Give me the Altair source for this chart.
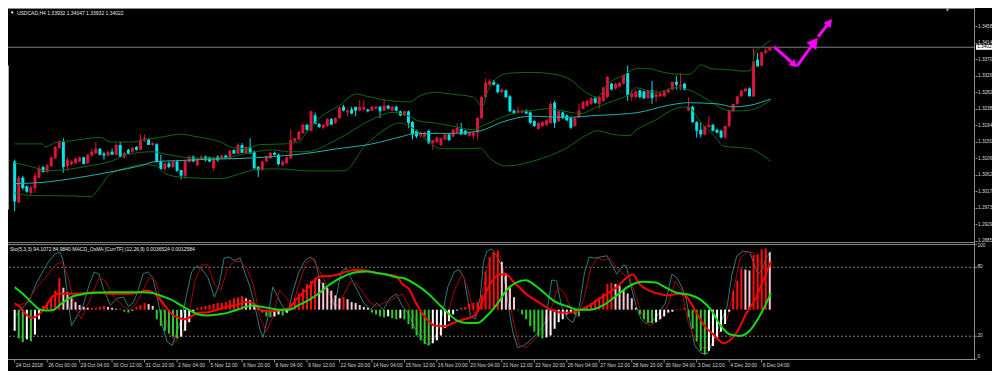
import altair as alt
import pandas as pd
import numpy as np

# ---------------- data ----------------
TITLE_MAIN = "USDCAD,H4  1.33932 1.34047 1.33932 1.34022"
TITLE_SUB = "Sto(5,3,3) 94.1072 84.9840   MACD_OsMA [CurrTF] (12,26,9) 0.0036524 0.0012584"
CURRENT_CLOSE = 1.34022

TIME_LABELS = ["24 Oct 2018", "26 Oct 00:00", "29 Oct 04:00", "30 Oct 12:00", "31 Oct 20:00",
               "2 Nov 04:00", "5 Nov 12:00", "6 Nov 20:00", "8 Nov 04:00", "9 Nov 12:00",
               "12 Nov 20:00", "14 Nov 04:00", "15 Nov 12:00", "16 Nov 20:00", "20 Nov 04:00",
               "21 Nov 12:00", "22 Nov 20:00", "26 Nov 04:00", "27 Nov 12:00", "28 Nov 20:00",
               "30 Nov 04:00", "3 Dec 12:00", "4 Dec 20:00", "6 Dec 04:00"]
TIME_LABEL_BARS = [8 * k for k in range(len(TIME_LABELS))]
PRICE_TICKS = [1.3458, 1.3414, 1.3370, 1.3326, 1.3282, 1.3238, 1.3194, 1.3150,
               1.3106, 1.3062, 1.3017, 1.2973, 1.2929, 1.2885]
STO_TICKS_TOP = [100]
STO_TICKS_MID = [80, 20]
STO_TICKS_BOTTOM = [0]
STO_LEVELS = [80, 20]

opens = [1.3097, 1.2987, 1.3054, 1.3031, 1.3013, 1.3026, 1.3054, 1.3082, 1.3069, 1.3085,
         1.3105, 1.3133, 1.3149, 1.3085, 1.3090, 1.3092, 1.3097, 1.3108, 1.3092, 1.3113,
         1.3118, 1.3131, 1.3118, 1.3113, 1.3123, 1.3115, 1.3141, 1.3108, 1.3128, 1.3123,
         1.3136, 1.3128, 1.3154, 1.3156, 1.3141, 1.3143, 1.3097, 1.3077, 1.3092, 1.3082,
         1.3097, 1.3074, 1.3059, 1.3095, 1.3110, 1.3087, 1.3102, 1.3110, 1.3108, 1.3079,
         1.3110, 1.3105, 1.3113, 1.3105, 1.3128, 1.3118, 1.3141, 1.3118, 1.3136, 1.3123,
         1.3082, 1.3074, 1.3097, 1.3105, 1.3120, 1.3115, 1.3087, 1.3092, 1.3105, 1.3151,
         1.3156, 1.3172, 1.3195, 1.3179, 1.3220, 1.3197, 1.3187, 1.3192, 1.3210, 1.3200,
         1.3213, 1.3243, 1.3228, 1.3236, 1.3243, 1.3233, 1.3236, 1.3236, 1.3233, 1.3238,
         1.3243, 1.3233, 1.3246, 1.3233, 1.3243, 1.3231, 1.3220, 1.3231, 1.3202, 1.3179,
         1.3166, 1.3164, 1.3179, 1.3146, 1.3149, 1.3141, 1.3156, 1.3169, 1.3164, 1.3174,
         1.3184, 1.3179, 1.3166, 1.3166, 1.3174, 1.3213, 1.3269, 1.3302, 1.3310, 1.3302,
         1.3282, 1.3287, 1.3271, 1.3233, 1.3228, 1.3228, 1.3233, 1.3228, 1.3205, 1.3184,
         1.3192, 1.3195, 1.3200, 1.3254, 1.3205, 1.3228, 1.3220, 1.3213, 1.3192, 1.3215,
         1.3238, 1.3246, 1.3251, 1.3266, 1.3251, 1.3259, 1.3269, 1.3305, 1.3292, 1.3297,
         1.3305, 1.3333, 1.3269, 1.3269, 1.3287, 1.3284, 1.3266, 1.3287, 1.3269, 1.3271,
         1.3271, 1.3282, 1.3289, 1.3310, 1.3297, 1.3305, 1.3233, 1.3243, 1.3202, 1.3182,
         1.3169, 1.3189, 1.3195, 1.3182, 1.3179, 1.3161, 1.3192, 1.3231, 1.3251, 1.3271,
         1.3284, 1.3292, 1.3271, 1.3369, 1.3353, 1.3387, 1.33932]
highs = [1.3102, 1.3059, 1.3059, 1.3033, 1.3033, 1.3067, 1.3087, 1.3085, 1.3090, 1.3110,
         1.3138, 1.3154, 1.3159, 1.3108, 1.3100, 1.3108, 1.3110, 1.3110, 1.3118, 1.3133,
         1.3149, 1.3133, 1.3123, 1.3126, 1.3131, 1.3146, 1.3149, 1.3123, 1.3131, 1.3136,
         1.3138, 1.3169, 1.3169, 1.3159, 1.3149, 1.3146, 1.3115, 1.3095, 1.3097, 1.3100,
         1.3100, 1.3074, 1.3102, 1.3113, 1.3113, 1.3108, 1.3113, 1.3113, 1.3110, 1.3110,
         1.3113, 1.3115, 1.3115, 1.3126, 1.3128, 1.3146, 1.3146, 1.3138, 1.3159, 1.3126,
         1.3085, 1.3100, 1.3113, 1.3123, 1.3123, 1.3118, 1.3100, 1.3110, 1.3182, 1.3161,
         1.3179, 1.3197, 1.3197, 1.3233, 1.3228, 1.3200, 1.3197, 1.3213, 1.3213, 1.3215,
         1.3243, 1.3248, 1.3236, 1.3243, 1.3243, 1.3261, 1.3261, 1.3238, 1.3246, 1.3246,
         1.3246, 1.3264, 1.3248, 1.3246, 1.3246, 1.3233, 1.3233, 1.3233, 1.3205, 1.3182,
         1.3177, 1.3177, 1.3182, 1.3154, 1.3164, 1.3161, 1.3172, 1.3172, 1.3184, 1.3200,
         1.3200, 1.3182, 1.3177, 1.3177, 1.3215, 1.3271, 1.3318, 1.3318, 1.3315, 1.3305,
         1.3292, 1.3289, 1.3274, 1.3236, 1.3243, 1.3236, 1.3236, 1.3231, 1.3207, 1.3202,
         1.3205, 1.3210, 1.3256, 1.3259, 1.3233, 1.3231, 1.3223, 1.3215, 1.3215, 1.3251,
         1.3259, 1.3261, 1.3269, 1.3269, 1.3271, 1.3295, 1.3325, 1.3307, 1.3307, 1.3310,
         1.3328, 1.3353, 1.3289, 1.3289, 1.3289, 1.3287, 1.3289, 1.3312, 1.3289, 1.3282,
         1.3287, 1.3292, 1.3310, 1.3325, 1.3333, 1.3307, 1.3269, 1.3246, 1.3205, 1.3202,
         1.3192, 1.3218, 1.3197, 1.3184, 1.3182, 1.3192, 1.3233, 1.3251, 1.3271, 1.3287,
         1.3292, 1.3295, 1.3399, 1.3387, 1.3389, 1.3402, 1.34047]
lows = [1.2964, 1.2987, 1.3021, 1.3013, 1.3008, 1.3013, 1.3051, 1.3067, 1.3067, 1.3082,
        1.3105, 1.3131, 1.3067, 1.3072, 1.3087, 1.3090, 1.3095, 1.3090, 1.3090, 1.3110,
        1.3118, 1.3113, 1.3102, 1.3110, 1.3115, 1.3113, 1.3108, 1.3105, 1.3118, 1.3120,
        1.3126, 1.3126, 1.3149, 1.3141, 1.3138, 1.3095, 1.3074, 1.3072, 1.3079, 1.3079,
        1.3069, 1.3049, 1.3051, 1.3095, 1.3095, 1.3085, 1.3100, 1.3097, 1.3095, 1.3072,
        1.3097, 1.3102, 1.3105, 1.3102, 1.3118, 1.3118, 1.3120, 1.3118, 1.3118, 1.3077,
        1.3056, 1.3072, 1.3095, 1.3105, 1.3113, 1.3087, 1.3085, 1.3092, 1.3105, 1.3149,
        1.3154, 1.3172, 1.3179, 1.3177, 1.3197, 1.3187, 1.3184, 1.3189, 1.3195, 1.3197,
        1.3210, 1.3231, 1.3218, 1.3223, 1.3218, 1.3231, 1.3233, 1.3228, 1.3231, 1.3236,
        1.3213, 1.3231, 1.3236, 1.3231, 1.3231, 1.3218, 1.3218, 1.3187, 1.3156, 1.3159,
        1.3161, 1.3161, 1.3143, 1.3128, 1.3146, 1.3138, 1.3154, 1.3151, 1.3161, 1.3172,
        1.3169, 1.3169, 1.3164, 1.3156, 1.3156, 1.3210, 1.3266, 1.3300, 1.3300, 1.3279,
        1.3279, 1.3266, 1.3228, 1.3223, 1.3225, 1.3225, 1.3223, 1.3197, 1.3189, 1.3182,
        1.3189, 1.3192, 1.3197, 1.3187, 1.3202, 1.3210, 1.3205, 1.3184, 1.3189, 1.3213,
        1.3236, 1.3243, 1.3248, 1.3251, 1.3238, 1.3256, 1.3266, 1.3287, 1.3289, 1.3295,
        1.3302, 1.3259, 1.3259, 1.3266, 1.3266, 1.3264, 1.3264, 1.3251, 1.3256, 1.3269,
        1.3269, 1.3279, 1.3287, 1.3289, 1.3287, 1.3287, 1.3231, 1.3200, 1.3161, 1.3161,
        1.3166, 1.3187, 1.3177, 1.3172, 1.3159, 1.3159, 1.3189, 1.3228, 1.3248, 1.3269,
        1.3282, 1.3271, 1.3269, 1.3351, 1.3351, 1.3384, 1.33932]
closes = [1.2990, 1.3054, 1.3026, 1.3016, 1.3028, 1.3059, 1.3079, 1.3069, 1.3087, 1.3108,
          1.3136, 1.3149, 1.3082, 1.3102, 1.3097, 1.3105, 1.3108, 1.3090, 1.3115, 1.3123,
          1.3131, 1.3115, 1.3113, 1.3123, 1.3115, 1.3141, 1.3110, 1.3120, 1.3118, 1.3133,
          1.3128, 1.3156, 1.3159, 1.3141, 1.3146, 1.3095, 1.3077, 1.3092, 1.3082, 1.3097,
          1.3072, 1.3059, 1.3100, 1.3110, 1.3097, 1.3105, 1.3110, 1.3100, 1.3097, 1.3108,
          1.3100, 1.3113, 1.3105, 1.3126, 1.3118, 1.3141, 1.3120, 1.3136, 1.3118, 1.3079,
          1.3074, 1.3097, 1.3110, 1.3120, 1.3115, 1.3090, 1.3097, 1.3108, 1.3154, 1.3159,
          1.3177, 1.3195, 1.3182, 1.3231, 1.3197, 1.3189, 1.3195, 1.3210, 1.3195, 1.3213,
          1.3241, 1.3233, 1.3233, 1.3225, 1.3233, 1.3243, 1.3243, 1.3231, 1.3243, 1.3243,
          1.3231, 1.3246, 1.3238, 1.3243, 1.3233, 1.3220, 1.3231, 1.3200, 1.3169, 1.3164,
          1.3174, 1.3174, 1.3146, 1.3154, 1.3161, 1.3159, 1.3169, 1.3154, 1.3182, 1.3187,
          1.3169, 1.3169, 1.3174, 1.3174, 1.3213, 1.3269, 1.3307, 1.3312, 1.3302, 1.3282,
          1.3289, 1.3269, 1.3231, 1.3225, 1.3233, 1.3233, 1.3225, 1.3200, 1.3192, 1.3200,
          1.3202, 1.3207, 1.3251, 1.3200, 1.3231, 1.3213, 1.3207, 1.3187, 1.3213, 1.3233,
          1.3256, 1.3259, 1.3266, 1.3254, 1.3269, 1.3295, 1.3323, 1.3289, 1.3305, 1.3307,
          1.3328, 1.3274, 1.3279, 1.3284, 1.3269, 1.3266, 1.3287, 1.3266, 1.3277, 1.3279,
          1.3284, 1.3289, 1.3310, 1.3302, 1.3302, 1.3289, 1.3243, 1.3202, 1.3179, 1.3169,
          1.3192, 1.3195, 1.3179, 1.3174, 1.3161, 1.3192, 1.3233, 1.3251, 1.3271, 1.3287,
          1.3292, 1.3271, 1.3364, 1.3351, 1.3389, 1.3394, 1.34022]

# Bollinger bands and moving average, read as (bar, price) vertices
bb_upper = [(0, 1.3144), (6.8, 1.3144), (7.5, 1.3136), (10.4, 1.3149), (12.8, 1.3151), (21.2, 1.3161),
            (23.6, 1.3149), (28.4, 1.3149), (33.2, 1.3157), (35.6, 1.3161), (41.1, 1.3170), (44.4, 1.3164),
            (50.7, 1.3149), (54.0, 1.3133), (57.1, 1.3131), (60.3, 1.3142), (66.7, 1.3144), (69.9, 1.3149),
            (71.5, 1.3169), (75.6, 1.3218), (79.5, 1.3243), (84.2, 1.3277), (87.6, 1.3269), (91.4, 1.3261),
            (97.2, 1.3256), (99.6, 1.3271), (103.4, 1.3282), (107.5, 1.3277), (113.0, 1.3269), (115.2, 1.3243),
            (116.4, 1.3282), (118.8, 1.3320), (121.9, 1.3333), (127.4, 1.3335), (133.9, 1.3328), (137.0, 1.3315),
            (140.4, 1.3284), (143.5, 1.3269), (145.9, 1.3302), (150.0, 1.3328), (153.1, 1.3345), (156.2, 1.3345),
            (159.5, 1.3336), (163.4, 1.3330), (166.3, 1.3330), (169.1, 1.3355), (171.5, 1.3345), (174.7, 1.3343),
            (177.1, 1.3341), (179.5, 1.3338), (181.4, 1.3341), (182.3, 1.3387), (184.2, 1.3405), (186.2, 1.3420)]
bb_middle = [(0, 1.3093), (6.1, 1.3077), (7.5, 1.3072), (15.7, 1.3080), (18.1, 1.3085), (23.6, 1.3097),
             (27.7, 1.3115), (33.9, 1.3123), (38.0, 1.3115), (44.4, 1.3106), (51.6, 1.3106), (55.5, 1.3115),
             (63.6, 1.3128), (67.5, 1.3123), (71.5, 1.3123), (79.5, 1.3156), (87.6, 1.3207), (93.1, 1.3228),
             (97.2, 1.3218), (99.6, 1.3205), (103.4, 1.3200), (107.5, 1.3192), (113.0, 1.3182), (115.2, 1.3192),
             (119.5, 1.3213), (122.6, 1.3225), (127.4, 1.3233), (131.5, 1.3238), (134.6, 1.3233), (139.4, 1.3225),
             (143.5, 1.3243), (147.5, 1.3259), (151.4, 1.3277), (153.1, 1.3294), (157.9, 1.3281), (162.7, 1.3294),
             (165.8, 1.3289), (169.1, 1.3272), (172.3, 1.3251), (175.4, 1.3234), (178.7, 1.3232), (181.9, 1.3236),
             (184.2, 1.3247), (186.2, 1.3261)]
bb_lower = [(0, 1.3013), (4.4, 1.3006), (14.0, 1.3005), (18.8, 1.3003), (19.5, 1.3008), (20.5, 1.3021),
            (23.6, 1.3064), (27.7, 1.3080), (31.5, 1.3089), (34.8, 1.3085), (37.2, 1.3064), (41.1, 1.3055),
            (50.7, 1.3051), (55.5, 1.3064), (60.3, 1.3077), (66.0, 1.3077), (71.5, 1.3072), (81.1, 1.3072),
            (86.6, 1.3143), (90.7, 1.3179), (94.8, 1.3200), (98.6, 1.3182), (102.0, 1.3149), (105.1, 1.3131),
            (111.6, 1.3131), (114.7, 1.3133), (117.1, 1.3105), (121.2, 1.3085), (127.4, 1.3097), (135.6, 1.3131),
            (141.1, 1.3169), (143.5, 1.3179), (147.5, 1.3169), (151.4, 1.3166), (153.1, 1.3181), (157.9, 1.3208),
            (162.7, 1.3238), (165.8, 1.3243), (169.1, 1.3200), (172.3, 1.3166), (174.7, 1.3138), (181.1, 1.3131),
            (183.5, 1.3119), (186.2, 1.3097)]
ma_line = [(0, 1.3038), (6.8, 1.3041), (14.0, 1.3051), (23.6, 1.3069), (30.8, 1.3085), (34.8, 1.3097),
           (39.6, 1.3099), (47.6, 1.3103), (55.5, 1.3105), (63.6, 1.3110), (71.5, 1.3118), (79.5, 1.3131),
           (87.6, 1.3143), (95.5, 1.3164), (98.6, 1.3172), (107.5, 1.3172), (114.7, 1.3179), (119.5, 1.3200),
           (123.6, 1.3213), (127.4, 1.3218), (135.6, 1.3215), (143.5, 1.3220), (151.4, 1.3225), (153.1, 1.3227),
           (161.0, 1.3247), (165.8, 1.3254), (173.0, 1.3251), (177.1, 1.3243), (181.1, 1.3247), (186.2, 1.3264)]

# hand-drawn forecast arrows: (segment, bar, price)
arrow_path = [(1, 187.1, 1.3403), (1, 192.3, 1.3353),
              (2, 192.7, 1.3352), (2, 197.4, 1.3422),
              (3, 197.9, 1.3430), (3, 201.0, 1.3474)]
arrow_heads = [(192.0, 1.3356, 132, 70), (197.0, 1.3416, 36, 150), (200.7, 1.3469, 37, 80)]

# Stochastic (5,3,3): main and signal (bar, value)
sto_main = [(0, 37), (3.6, 51), (5.2, 65), (7.2, 78), (8.4, 85), (10, 92), (11.2, 93), (12, 85), (12.8, 62),
            (14, 29), (15.6, 39), (16.8, 46), (18.4, 65), (19.6, 76), (20.8, 74), (22, 60), (23.6, 47),
            (25.2, 53), (26.8, 54), (28, 46), (29.2, 49), (30.4, 60), (31.6, 74), (32.8, 76), (34, 71),
            (35.2, 53), (36.4, 29), (37.6, 15), (38.8, 12), (40, 24), (41.2, 36), (42.4, 57), (43.6, 76),
            (44.8, 81), (46, 79), (47.6, 71), (49.2, 54), (50.4, 65), (51.6, 88), (52.8, 89), (54, 86),
            (55.6, 88), (56.8, 74), (58, 63), (59.2, 46), (60.4, 26), (61.2, 19), (62.4, 37), (63.6, 63),
            (64.8, 54), (66, 46), (67.2, 40), (68.4, 57), (70, 76), (71.6, 86), (72.8, 89), (74, 86),
            (75.2, 68), (76.4, 63), (77.6, 57), (78.8, 46), (80.4, 76), (81.6, 79), (82.8, 71), (84.4, 60),
            (86, 49), (87.6, 43), (89.2, 49), (90.8, 43), (92.4, 53), (94, 57), (95.5, 46), (97.1, 39),
            (98.7, 26), (100.3, 18), (101.9, 12), (103.5, 18), (105.1, 35), (106.7, 63), (108.3, 76),
            (109.5, 78), (110.7, 71), (112.3, 37), (113.5, 35), (114.7, 54), (115.5, 85), (116.3, 94),
            (117.5, 96), (118.7, 90), (120.3, 79), (121.9, 40), (122.7, 24), (123.9, 10), (125.5, 12),
            (127.5, 18), (129.1, 24), (130.7, 32), (132.3, 69), (133.5, 68), (134.7, 46), (136.3, 35),
            (137.5, 32), (139.1, 46), (140.3, 74), (141.5, 89), (142.7, 88), (144.3, 89), (145.9, 90),
            (147.1, 82), (148.3, 74), (149.9, 82), (150.7, 81), (151.5, 68), (153.1, 46), (154.3, 35),
            (155.5, 31), (157.1, 33), (158.7, 40), (160.3, 49), (161.9, 74), (163.1, 71), (164.3, 63),
            (165.5, 51), (166.7, 26), (167.5, 12), (169.1, 5), (170.7, 5), (172.3, 18), (173.9, 32),
            (175.5, 46), (176.7, 74), (177.9, 90), (179.5, 94), (181.1, 93), (181.9, 85), (183.1, 74),
            (184.3, 79), (185.1, 88), (186.3, 94)]
sto_signal = [(0, 46), (2.8, 49), (6, 65), (8.4, 74), (10, 82), (11.6, 85), (13.2, 71), (14.8, 46),
              (16.4, 35), (18.8, 54), (20.8, 71), (22.4, 68), (24.4, 54), (26.8, 46), (28.4, 43), (30, 49),
              (31.6, 60), (33.2, 71), (34.8, 68), (36.4, 46), (38, 24), (39.6, 15), (41.2, 21), (42.8, 37),
              (44.4, 68), (46, 82), (47.6, 82), (49.2, 65), (50.8, 60), (52.4, 79), (54, 85), (55.6, 85),
              (57.2, 79), (58.8, 65), (60.4, 37), (62, 24), (63.6, 37), (65.2, 60), (66.8, 54), (68.4, 46),
              (70, 65), (71.6, 82), (73.2, 88), (74.8, 79), (76.4, 68), (78, 54), (79.6, 46), (81.2, 57),
              (82.8, 68), (84.4, 65), (86, 57), (87.6, 49), (89.2, 46), (90.8, 49), (92.4, 51), (94, 54),
              (95.5, 57), (97.1, 46), (99.5, 29), (101.9, 18), (103.5, 18), (105.9, 29), (108.3, 60),
              (110.3, 74), (111.5, 63), (113.1, 40), (114.7, 46), (116.3, 79), (117.9, 93), (119.5, 90),
              (121.1, 68), (122.7, 35), (124.3, 12), (125.9, 10), (127.5, 15), (129.1, 21), (130.7, 26),
              (132.3, 46), (133.9, 63), (135.5, 57), (137.1, 43), (138.7, 37), (140.3, 54), (141.9, 79),
              (143.5, 88), (145.1, 86), (146.7, 88), (148.3, 79), (149.9, 74), (151.5, 71), (153.1, 54),
              (154.7, 37), (156.3, 29), (157.9, 32), (159.5, 37), (161.1, 49), (162.7, 68), (164.3, 60),
              (165.9, 32), (167.5, 18), (169.1, 10), (170.7, 10), (172.3, 15), (173.9, 26), (175.5, 35),
              (177.1, 60), (178.7, 88), (180.3, 93), (181.9, 93), (183.5, 85), (185.1, 76), (186.3, 85)]

# MACD_OsMA, in pips (0.0001)
osma_hist = [-16.0, -21.8, -24.7, -22.5, -24.0, -18.9, -7.3, 2.9, 5.1, 8.7,
             14.5, 24.0, 16.7, 13.1, 8.7, 5.8, 3.6, 2.2, 1.5, 1.5,
             1.5, 2.2, 2.9, 2.2, 1.5, 0.7, 0.7, -1.5, -2.2, -0.7,
             2.2, 3.6, 5.1, 4.4, 2.9, -7.3, -12.4, -16.0, -18.2, -20.4,
             -21.8, -20.4, -16.0, -9.5, -1.5, 1.5, 2.2, 2.9, 3.6, 4.4,
             5.1, 5.2, 5.8, 7.3, 8.7, 9.5, 10.2, 8.7, 7.3, 5.1,
             2.2, -2.2, -5.1, -5.8, -5.1, -3.6, -4.4, -2.2, 5.1, 8.7,
             12.4, 16.0, 19.6, 21.8, 24.0, 23.3, 20.4, 16.7, 14.5, 10.9,
             8.7, 9.5, 8.0, 5.8, 5.1, 3.6, 2.2, 1.5, -2.2, -3.6,
             -5.1, -5.8, -5.1, -6.5, -7.3, -6.5, -7.3, -10.9, -14.5, -19.6,
             -23.3, -26.2, -26.9, -25.5, -23.3, -19.6, -13.8, -8.7, -3.6, -0.7,
             1.5, 2.2, 4.4, 5.1, 5.8, 10.9, 29.1, 40.0, 43.6, 45.1,
             36.4, 27.6, 18.2, 9.5, -0.5, -3.6, -7.3, -12.4, -16.7, -20.4,
             -21.8, -21.1, -19.6, -14.5, -9.5, -7.3, -3.6, -2.2, -3.6, -5.1,
             1.5, 2.2, 5.1, 7.3, 9.5, 12.4, 19.6, 20.4, 19.6, 18.2,
             15.3, 12.4, 8.7, 1.5, -3.6, -7.3, -9.5, -10.2, -9.5, -7.3,
             -5.1, -2.2, -1.5, 0.4, 0.7, 1.5, -5.8, -14.5, -24.0, -31.3,
             -34.2, -31.3, -27.6, -21.8, -16.7, -10.9, -1.5, 14.5, 21.8, 31.3,
             30.5, 29.8, 41.4, 42.2, 45.8, 46.5, 43.6]
macd_main = [(0, 4.8), (1.2, 2.4), (2.8, -3.6), (4.4, -6.1), (6, -3.6), (7.6, 2.4), (9.2, 9.7), (10.8, 12.1),
             (15.6, 12.1), (19.6, 13.3), (23.6, 12.1), (28.4, 12.1), (30.8, 13.3), (32.4, 14.5), (34, 13.3),
             (35.6, 8.5), (37.2, 2.4), (38.8, -3.6), (40.4, -6.1), (42, -7.3), (43.6, -4.8), (45.2, -2.4),
             (47.6, -1.9), (50, 0), (52.4, 2.4), (54.8, 3.6), (57.2, 6.1), (58.8, 4.8), (60.4, 0), (62, -1.2),
             (65.2, -0.5), (67.6, 1.2), (69.2, 7.3), (70.8, 12.1), (72.4, 17), (74, 23), (75.6, 25.5),
             (77.2, 25.5), (79.6, 26.7), (82, 29.1), (84.4, 30.3), (86.8, 29.6), (89.2, 27.9), (91.6, 26.7),
             (94, 25.5), (95.5, 19.4), (97.1, 15.8), (98.7, 6.1), (100.3, -2.4), (101.9, -8.5), (103.5, -12.1),
             (105.9, -12.6), (108.3, -9.7), (110.7, -7.3), (113.1, -4.8), (114.7, 2.4), (116.3, 14.5),
             (117.9, 23), (119.5, 26.7), (121.1, 26.7), (122.7, 21.8), (124.3, 17), (125.9, 12.1),
             (128.3, 7.3), (130.7, 2.4), (133.1, -1.2), (135.5, -2.4), (138.7, -1.2), (140.3, 1.2),
             (141.9, 3.6), (143.5, 7.3), (145.9, 12.1), (148.3, 17), (150.7, 24.2), (152.3, 26.7),
             (153.9, 19.4), (156.3, 14.5), (158.7, 12.1), (161.1, 10.9), (163.5, 12.1), (165.1, 10.9),
             (167.5, 0), (169.9, -12.1), (172.3, -19.4), (174.7, -25.5), (175.5, -24.7), (177.9, -17),
             (180.3, -2.4), (182.7, 9.7), (184.3, 21.8), (186.3, 36.5)]
macd_signal = [(0, 17), (2, 12.1), (4.4, 4.8), (6, 0.5), (7.6, -0.7), (9.2, -0.5), (11.6, 4.8), (14, 9.7),
               (16.4, 11.6), (18.8, 12.6), (23.6, 13.3), (31.6, 13.3), (34, 12.6), (36.4, 10.2), (38.8, 7.3),
               (41.2, 2.9), (43.6, -1.2), (45.2, -3.6), (47.6, -4.4), (50, -3.6), (52.4, -2.4), (54.8, 0),
               (57.2, 2.4), (58.8, 3.2), (60.4, 2.4), (62.8, 1.2), (65.2, 0), (67.6, 0), (70, 3.6), (72.4, 7.3),
               (74.8, 12.1), (77.2, 18.2), (79.6, 23), (82, 26.7), (84.4, 28.6), (86.8, 29.1), (89.2, 27.9),
               (91.6, 26.7), (94, 24.7), (95.5, 24.2), (98.7, 19.4), (101.9, 12.1), (104.3, 4.8), (106.7, -2.4),
               (109.1, -8.5), (111.5, -10.2), (113.9, -10.2), (116.3, -4.8), (118.7, 3.6), (121.1, 14.5),
               (123.5, 20.6), (125.9, 22.3), (128.3, 18.2), (130.7, 12.1), (133.1, 6.1), (136.3, 2.4),
               (138.7, 0), (141.9, 0), (145.1, 3.6), (148.3, 10.9), (151.5, 18.2), (154.7, 21.3), (157.9, 20.6),
               (160.3, 17), (162.7, 13.3), (165.9, 11.6), (169.1, 7.3), (171.5, 0), (173.9, -12.1),
               (176.3, -18.9), (178.7, -19.9), (181.1, -15.8), (183.5, -4.8), (186.3, 12.6)]

# ---------------- layout / styling ----------------
PLOT_W, PLOT_H = 967, 352
X_DOMAIN = [-0.408, 235.32]
PRICE_DOMAIN, PRICE_RANGE = [1.2880, 1.3507], [234.7, 0]
STO_DOMAIN, STO_RANGE = [0, 100], [351.2, 236.3]
MACD_DOMAIN, MACD_RANGE = [-38, 50], [351.7, 235.9]

BULL, BEAR = "#dc143c", "#00e5e5"
TXT = "#d8d8d8"
GRID = "#8c8c8c"
FONT = "Liberation Sans"
AXIS_FS = 4.7


def xs():
    return alt.Scale(domain=X_DOMAIN, range=[0, PLOT_W], nice=False, zero=False)


def sc(dom, rng):
    return alt.Scale(domain=dom, range=rng, nice=False, zero=False)


def X(field="bar"):
    return alt.X(f"{field}:Q", scale=xs(), axis=None)


candles = pd.DataFrame({"bar": np.arange(len(opens)), "o": opens, "h": highs, "l": lows, "c": closes})
candles["col"] = np.where(candles["c"] >= candles["o"], BULL, BEAR)

hist = pd.DataFrame({"bar": np.arange(len(osma_hist)), "v": osma_hist})
prev = hist["v"].shift(1)
hist["base"] = 0.0
hist["col"] = np.where(hist["v"] >= 0,
                       np.where(hist["v"] >= prev, "#ff1010", "#f7c6cf"),
                       np.where(hist["v"] <= prev, "#2ec82e", "#ffffff"))

time_df = pd.DataFrame({"bar": TIME_LABEL_BARS, "t": TIME_LABELS})

price_axis = alt.Axis(orient="right", values=PRICE_TICKS, format=".4f", labelFontSize=AXIS_FS, labelFont=FONT,
                      labelColor=TXT, tickColor=GRID, tickSize=2, labelPadding=0.5, domain=False, grid=False,
                      title=None, labelOverlap=False, labelFlush=False)

one = pd.DataFrame({"k": [0]})
layers = []

# frame lines
layers.append(alt.Chart(one).mark_rule(color=GRID, strokeWidth=1).encode(y=alt.value(0.5)))
layers.append(alt.Chart(one).mark_rule(color=GRID, strokeWidth=1).encode(y=alt.value(234.6)))
layers.append(alt.Chart(one).mark_rule(color=GRID, strokeWidth=1).encode(y=alt.value(236.6)))
layers.append(alt.Chart(one).mark_rule(color=GRID, strokeWidth=1).encode(y=alt.value(PLOT_H - 0.5)))
layers.append(alt.Chart(one).mark_rule(color="#a8a8a8", strokeWidth=1).encode(
    x=alt.value(0.5), y=alt.value(57.5), y2=alt.value(201.5)))

# time axis: ticks and labels
layers.append(alt.Chart(time_df).mark_rule(color=GRID, strokeWidth=1).encode(
    x=X(), y=alt.value(PLOT_H), y2=alt.value(PLOT_H + 2.5)))
layers.append(alt.Chart(time_df).mark_text(align="left", baseline="middle", fontSize=5, font=FONT,
                                           color=TXT, dx=1).encode(
    x=X(), y=alt.value(PLOT_H + 5.2), text="t:N"))

# stochastic levels
layers.append(alt.Chart(pd.DataFrame({"lvl": STO_LEVELS})).mark_rule(color="#7a7a7a", strokeDash=[2, 2], strokeWidth=1)
              .encode(y=alt.Y("lvl:Q", scale=sc(STO_DOMAIN, STO_RANGE), axis=None)))

# stochastic scale labels (kept inside the sub-window like the terminal does)
for vals, shift in ((STO_TICKS_TOP, 1.4), (STO_TICKS_MID, 0), (STO_TICKS_BOTTOM, -2.4)):
    sdf = pd.DataFrame({"v": vals})
    layers.append(alt.Chart(sdf).mark_rule(color=GRID, strokeWidth=1).encode(
        x=alt.value(PLOT_W), x2=alt.value(PLOT_W + 2), y=alt.Y("v:Q", scale=sc(STO_DOMAIN, STO_RANGE), axis=None)))
    layers.append(alt.Chart(sdf).mark_text(align="left", baseline="middle", fontSize=AXIS_FS, font=FONT,
                                           color=TXT, dy=shift).encode(
        x=alt.value(PLOT_W + 2.5), y=alt.Y("v:Q", scale=sc(STO_DOMAIN, STO_RANGE), axis=None), text="v:Q"))

# current price line
layers.append(alt.Chart(pd.DataFrame({"p": [CURRENT_CLOSE]})).mark_rule(color="#767c8a", strokeWidth=1)
              .encode(y=alt.Y("p:Q", scale=sc(PRICE_DOMAIN, PRICE_RANGE), axis=None)))

# candles
layers.append(alt.Chart(candles).mark_rule(strokeWidth=1).encode(
    x=X(), y=alt.Y("l:Q", scale=sc(PRICE_DOMAIN, PRICE_RANGE), axis=price_axis), y2="h:Q",
    color=alt.Color("col:N", scale=None)))
layers.append(alt.Chart(candles).mark_bar(size=3, strokeWidth=0).encode(
    x=X(), y=alt.Y("o:Q", scale=sc(PRICE_DOMAIN, PRICE_RANGE), axis=None), y2="c:Q",
    color=alt.Color("col:N", scale=None)))


def line(pairs, dom, rng, color, width, interp="linear"):
    df = pd.DataFrame(pairs, columns=["bar", "v"])
    return alt.Chart(df).mark_line(color=color, strokeWidth=width, interpolate=interp).encode(
        x=X(), y=alt.Y("v:Q", scale=sc(dom, rng), axis=None))


layers.append(line(bb_upper, PRICE_DOMAIN, PRICE_RANGE, "#0b6b0b", 1, "monotone"))
layers.append(line(bb_middle, PRICE_DOMAIN, PRICE_RANGE, "#0b6b0b", 1, "monotone"))
layers.append(line(bb_lower, PRICE_DOMAIN, PRICE_RANGE, "#0b6b0b", 1, "monotone"))
layers.append(line(ma_line, PRICE_DOMAIN, PRICE_RANGE, "#20b2aa", 1, "monotone"))

# arrows
adf = pd.DataFrame(arrow_path, columns=["seg", "bar", "v"])
layers.append(alt.Chart(adf).mark_line(color="#ff00ff", strokeWidth=3).encode(
    x=X(), y=alt.Y("v:Q", scale=sc(PRICE_DOMAIN, PRICE_RANGE), axis=None), detail="seg:N"))
hdf = pd.DataFrame(arrow_heads, columns=["bar", "v", "ang", "sz"])
layers.append(alt.Chart(hdf).mark_point(shape="triangle-up", filled=True, color="#ff00ff", opacity=1).encode(
    x=X(), y=alt.Y("v:Q", scale=sc(PRICE_DOMAIN, PRICE_RANGE), axis=None),
    angle=alt.Angle("ang:Q", scale=None), size=alt.Size("sz:Q", scale=None)))

# stochastic
layers.append(line(sto_main, STO_DOMAIN, STO_RANGE, "#2c7c7c", 1))
layers.append(line(sto_signal, STO_DOMAIN, STO_RANGE, "#a80000", 1))

# OsMA histogram + MACD lines
layers.append(alt.Chart(hist).mark_rule(strokeWidth=2).encode(
    x=X(), y=alt.Y("base:Q", scale=sc(MACD_DOMAIN, MACD_RANGE), axis=None), y2="v:Q",
    color=alt.Color("col:N", scale=None)))
layers.append(line(macd_main, MACD_DOMAIN, MACD_RANGE, "#ff0000", 2, "monotone"))
layers.append(line(macd_signal, MACD_DOMAIN, MACD_RANGE, "#10dc10", 2, "monotone"))

# texts
layers.append(alt.Chart(pd.DataFrame({"t": [TITLE_MAIN]})).mark_text(
    align="left", baseline="middle", fontSize=5, font=FONT, color="#e8e8e8").encode(
    x=alt.value(8.9), y=alt.value(4.9), text="t:N"))
layers.append(alt.Chart(one).mark_point(shape="triangle-down", filled=True, color="#e8e8e8", size=10, opacity=1)
              .encode(x=alt.value(4.2), y=alt.value(4.8)))
layers.append(alt.Chart(one).mark_point(shape="triangle-down", filled=True, color="#9a9a9a", size=14, opacity=1)
              .encode(x=alt.value(939.5), y=alt.value(2.2)))
layers.append(alt.Chart(pd.DataFrame({"t": [TITLE_SUB]})).mark_text(
    align="left", baseline="middle", fontSize=5, font=FONT, color="#e8e8e8").encode(
    x=alt.value(2.0), y=alt.value(240.6), text="t:N"))

# current price tag
layers.append(alt.Chart(one).mark_rect(color="#ffffff").encode(
    x=alt.value(968), x2=alt.value(990), y=alt.value(36.6), y2=alt.value(41.8)))
layers.append(alt.Chart(pd.DataFrame({"t": ["%.4f" % CURRENT_CLOSE]})).mark_text(
    align="left", baseline="middle", fontSize=AXIS_FS, font=FONT, color="#000000").encode(
    x=alt.value(969.2), y=alt.value(39.4), text="t:N"))

# right border
layers.append(alt.Chart(one).mark_rule(color=GRID, strokeWidth=1).encode(
    x=alt.value(PLOT_W - 0.5), y=alt.value(0), y2=alt.value(PLOT_H)))

chart = alt.layer(*layers).resolve_scale(y="independent").properties(
    width=PLOT_W, height=PLOT_H,
    autosize=alt.AutoSizeParams(type="none"),
    padding={"left": 0, "top": 0, "right": 17, "bottom": 11},
    background="#000000",
).configure_view(stroke=None)

chart.save("out.html", embed_options={"renderer": "svg", "actions": False})
